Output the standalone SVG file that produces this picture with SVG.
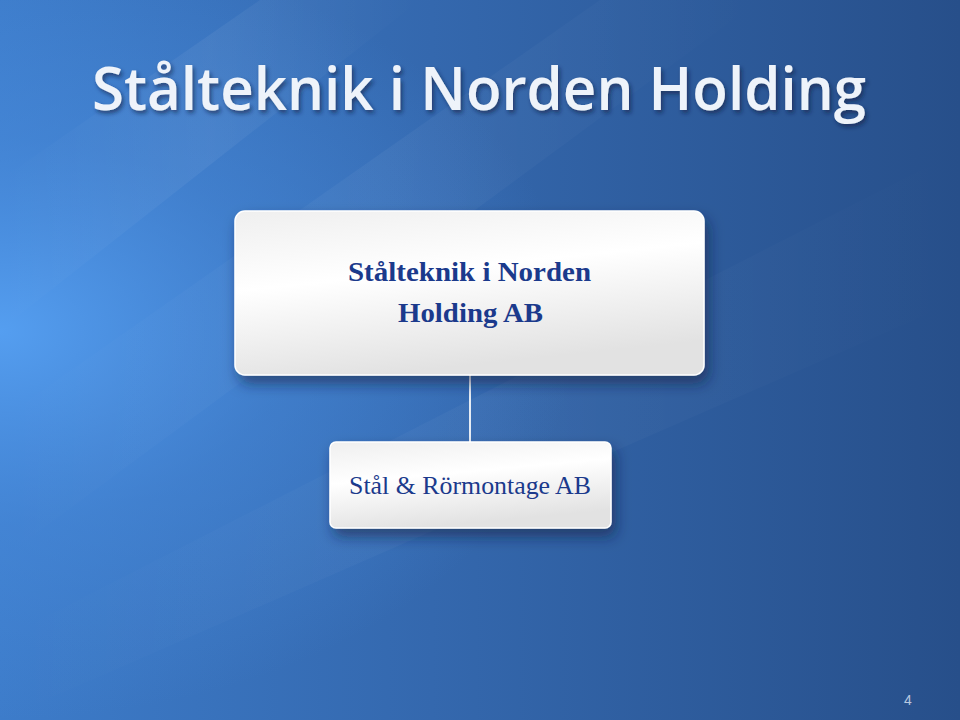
<svg xmlns="http://www.w3.org/2000/svg" width="960" height="720" viewBox="0 0 960 720">
<defs>
<linearGradient id="bg" x1="0" y1="0.5" x2="1" y2="0.5">
<stop offset="0" stop-color="#3d7cca"/>
<stop offset="0.45" stop-color="#3468ae"/>
<stop offset="1" stop-color="#274f8a"/>
</linearGradient>
<radialGradient id="glow" cx="0" cy="0.46" r="0.6" gradientTransform="translate(0,0.46) scale(1,0.9) translate(0,-0.46)">
<stop offset="0" stop-color="#56a0f2" stop-opacity="0.95"/>
<stop offset="0.5" stop-color="#4a8ee0" stop-opacity="0.45"/>
<stop offset="1" stop-color="#4a8ee0" stop-opacity="0"/>
</radialGradient>
<linearGradient id="band" x1="0" y1="0" x2="1" y2="0">
<stop offset="0" stop-color="#ffffff" stop-opacity="0"/>
<stop offset="0.5" stop-color="#ffffff" stop-opacity="0.07"/>
<stop offset="1" stop-color="#ffffff" stop-opacity="0"/>
</linearGradient>
<linearGradient id="box" x1="0" y1="0" x2="0.3" y2="1">
<stop offset="0" stop-color="#efefef"/>
<stop offset="0.45" stop-color="#ffffff"/>
<stop offset="1" stop-color="#e2e2e2"/>
</linearGradient>
<filter id="sh" x="-10%" y="-10%" width="130%" height="140%">
<feDropShadow dx="4" dy="8" stdDeviation="7" flood-color="#0a1e40" flood-opacity="0.55"/>
</filter>
<filter id="tsh" x="-5%" y="-20%" width="110%" height="150%">
<feDropShadow dx="2" dy="3" stdDeviation="2" flood-color="#0a1e40" flood-opacity="0.6"/>
</filter>
<style>
.bx{fill:url(#box);stroke:#ffffff;stroke-width:1.5;filter:url(#sh)}
.t1{font-family:"Liberation Serif","DejaVu Serif",serif;font-weight:bold;font-size:27px;fill:#1b3a8c;text-anchor:middle}
.t2{font-family:"Liberation Serif","DejaVu Serif",serif;font-size:26px;fill:#1b3a8c;text-anchor:middle}
</style>
</defs>
<rect width="960" height="720" fill="url(#bg)"/>
<rect width="960" height="720" fill="url(#glow)"/>
<polygon points="0,180 260,0 420,0 0,330" fill="url(#band)" opacity="0.8"/>
<polygon points="0,420 600,0 760,0 0,560" fill="url(#band)" opacity="0.6"/>
<polygon points="0,640 960,150 960,300 0,720" fill="url(#band)" opacity="0.5"/>
<text x="479" y="110" font-family="'Open Sans','DejaVu Sans',sans-serif" font-weight="600" font-size="59" fill="#eef3fa" text-anchor="middle" textLength="774" lengthAdjust="spacingAndGlyphs" filter="url(#tsh)">Stålteknik i Norden Holding</text>
<g id="connectors">
<line x1="470" y1="375" x2="470" y2="442" stroke="#e6ecf4" stroke-width="2"/>
</g>
<g id="node-holding">
<rect class="bx" x="235" y="211" width="469" height="164" rx="10"/>
<text class="t1" x="469.5" y="281" textLength="243" lengthAdjust="spacingAndGlyphs">Stålteknik i Norden</text>
<text class="t1" x="470.5" y="322" textLength="145" lengthAdjust="spacingAndGlyphs">Holding AB</text>
</g>
<g id="node-stal">
<rect class="bx" x="330" y="442" width="281" height="86" rx="6"/>
<text class="t2" x="470" y="494" textLength="242" lengthAdjust="spacingAndGlyphs">Stål &amp; Rörmontage AB</text>
</g>
<text x="908" y="705" font-family="'Liberation Sans',sans-serif" font-size="14" fill="#b8c8e0" text-anchor="middle">4</text>
</svg>
